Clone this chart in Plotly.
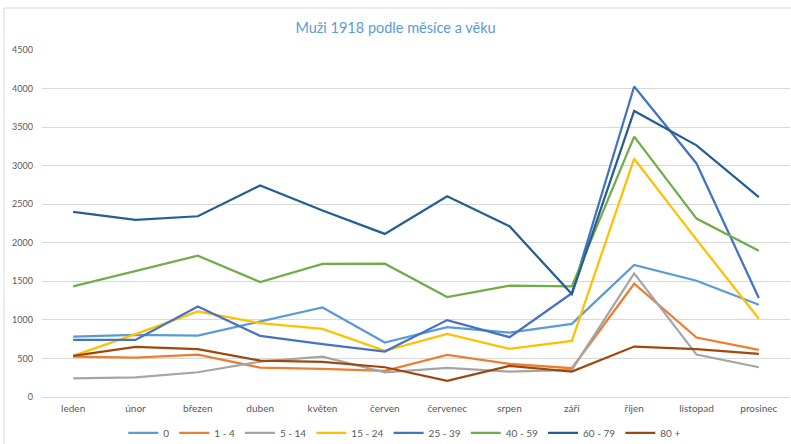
import plotly.graph_objects as go

months = ['leden', 'únor', 'březen', 'duben', 'květen', 'červen',
          'červenec', 'srpen', 'září', 'říjen', 'listopad', 'prosinec']

age_0 = [784, 806, 797, 979, 1161, 706, 906, 836, 949, 1712, 1508, 1196]
age_1_4 = [524, 511, 550, 381, 364, 338, 546, 429, 373, 1469, 771, 611]
age_5_14 = [243, 256, 321, 459, 524, 321, 377, 329, 351, 1603, 550, 386]
age_15_24 = [533, 815, 1109, 958, 884, 598, 819, 624, 728, 3090, 2041, 1014]
age_25_39 = [741, 740, 1174, 793, 685, 589, 997, 776, 1345, 4026, 3029, 1283]
age_40_59 = [1434, 1629, 1833, 1491, 1725, 1729, 1296, 1443, 1434, 3376, 2314, 1898]
age_60_79 = [2401, 2297, 2344, 2743, 2418, 2115, 2604, 2214, 1335, 3709, 3263, 2591]
age_80 = [533, 650, 620, 472, 455, 386, 208, 403, 329, 654, 620, 559]

series = [
    ('0', age_0, '#5B9BD5'),
    ('1 - 4', age_1_4, '#ED7D31'),
    ('5 - 14', age_5_14, '#A5A5A5'),
    ('15 - 24', age_15_24, '#FFC000'),
    ('25 - 39', age_25_39, '#4472C4'),
    ('40 - 59', age_40_59, '#70AD47'),
    ('60 - 79', age_60_79, '#255E91'),
    ('80 +', age_80, '#9E480E'),
]

fig = go.Figure()
for name, vals, color in series:
    fig.add_trace(go.Scatter(x=months, y=vals, name=name, mode='lines',
                             line=dict(color=color, width=2.25)))

fig.update_layout(
    width=791, height=444,
    paper_bgcolor='white', plot_bgcolor='white',
    font=dict(family='Lato', size=10, color='#595959'),
    title=dict(text='Muži 1918 podle měsíce a věku', x=0.5, xanchor='center',
               y=0.937, yanchor='middle',
               font=dict(family='Lato', size=14.5, color='#5B9BD5')),
    margin=dict(l=42, r=1, t=50, b=47, autoexpand=False),
    legend=dict(orientation='h', x=0.485, xanchor='center', yref='container',
                y=0.025, yanchor='middle',
                font=dict(size=10, color='#595959'), itemwidth=30,
                tracegroupgap=0),
    showlegend=True,
)
fig.update_xaxes(range=[-0.5, 11.5], showgrid=False, ticks='', showline=False,
                 automargin=False, ticklabelstandoff=4,
                 tickfont=dict(size=10, color='#595959'))
fig.update_yaxes(range=[0, 4500], dtick=500, showgrid=True, gridcolor='#D9D9D9',
                 gridwidth=1, zeroline=True, zerolinecolor='#D9D9D9', zerolinewidth=1,
                 ticks='', ticklabelstandoff=8, automargin=False,
                 tickfont=dict(size=9, color='#595959'))
# chart frame like the spreadsheet original
fig.add_shape(type='rect', xref='paper', yref='paper', x0=-0.0508, x1=1.01, y0=-0.3, y1=1.121,
              line=dict(color='#D9D9D9', width=1))
fig.write_html("out.html", config={'displayModeBar': False},
               post_script="document.body.style.margin='0';")
